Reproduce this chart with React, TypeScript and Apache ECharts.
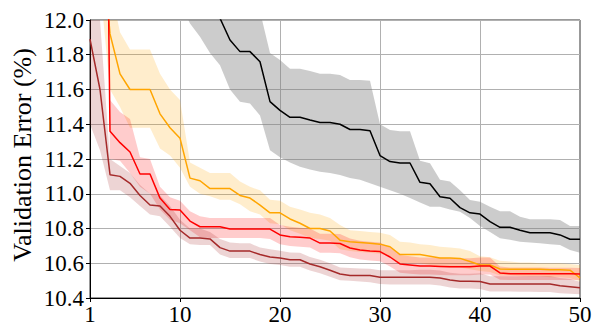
import React, { useEffect, useRef } from "react";
import * as echarts from "echarts";

const epochs: number[] = Array.from({ length: 50 }, (_, i) => i + 1);

const blackMean = [13.4, 13.32, 13.2, 13.1, 13.0, 12.92, 12.8, 12.7, 12.62, 12.5, 12.4, 12.3, 12.15, 12.01, 11.885, 11.818, 11.818, 11.76, 11.53, 11.48, 11.44, 11.44, 11.424, 11.41, 11.41, 11.4, 11.37, 11.37, 11.363, 11.22, 11.185, 11.177, 11.177, 11.066, 11.058, 10.983, 10.974, 10.92, 10.89, 10.883, 10.84, 10.807, 10.807, 10.79, 10.776, 10.776, 10.776, 10.763, 10.738, 10.738];
const blackLow = [13.0, 12.9, 12.8, 12.7, 12.6, 12.5, 12.4, 12.3, 12.2, 12.1, 11.98, 11.904, 11.81, 11.74, 11.6, 11.53, 11.52, 11.45, 11.25, 11.21, 11.18, 11.156, 11.14, 11.127, 11.12, 11.108, 11.09, 11.08, 11.06, 11.04, 11.02, 11.0, 10.975, 10.95, 10.925, 10.925, 10.91, 10.897, 10.86, 10.814, 10.78, 10.744, 10.735, 10.724, 10.72, 10.715, 10.71, 10.705, 10.676, 10.66];
const blackHigh = [13.8, 13.7, 13.6, 13.5, 13.4, 13.3, 13.2, 13.1, 13.0, 12.9, 12.8, 12.7, 12.6, 12.5, 12.45, 12.4, 12.3, 12.05, 11.81, 11.77, 11.72, 11.72, 11.706, 11.69, 11.69, 11.683, 11.655, 11.655, 11.65, 11.4, 11.367, 11.36, 11.36, 11.19, 11.175, 11.08, 11.07, 11.02, 10.964, 10.954, 10.925, 10.9, 10.9, 10.868, 10.853, 10.853, 10.853, 10.849, 10.814, 10.814];

const orangeMean = [13.0, 12.6, 11.92, 11.69, 11.6, 11.6, 11.6, 11.46, 11.38, 11.32, 11.09, 11.075, 11.03, 11.03, 11.03, 10.99, 10.975, 10.935, 10.89, 10.89, 10.855, 10.83, 10.8, 10.8, 10.786, 10.733, 10.724, 10.72, 10.715, 10.71, 10.695, 10.65, 10.65, 10.65, 10.64, 10.63, 10.63, 10.628, 10.61, 10.59, 10.59, 10.567, 10.565, 10.565, 10.565, 10.565, 10.563, 10.563, 10.56, 10.515];
const orangeLow = [12.5, 12.2, 11.6, 11.5, 11.38, 11.38, 11.38, 11.26, 11.22, 11.15, 11.04, 11.0, 10.985, 10.965, 10.965, 10.94, 10.9, 10.88, 10.83, 10.825, 10.79, 10.77, 10.745, 10.74, 10.73, 10.68, 10.67, 10.665, 10.66, 10.655, 10.64, 10.6, 10.6, 10.6, 10.59, 10.58, 10.575, 10.575, 10.565, 10.555, 10.55, 10.53, 10.53, 10.525, 10.525, 10.525, 10.52, 10.52, 10.515, 10.495];
const orangeHigh = [13.5, 13.0, 12.2, 11.93, 11.83, 11.83, 11.83, 11.69, 11.6, 11.54, 11.18, 11.15, 11.12, 11.12, 11.12, 11.07, 11.04, 11.02, 10.965, 10.96, 10.925, 10.91, 10.89, 10.88, 10.86, 10.82, 10.79, 10.785, 10.78, 10.775, 10.763, 10.724, 10.72, 10.71, 10.705, 10.695, 10.69, 10.685, 10.67, 10.64, 10.635, 10.615, 10.61, 10.605, 10.605, 10.6, 10.6, 10.6, 10.595, 10.59];

const redMean = [17.0, 16.3, 11.36, 11.294, 11.24, 11.114, 11.114, 10.975, 10.91, 10.906, 10.843, 10.81, 10.81, 10.81, 10.797, 10.797, 10.797, 10.797, 10.797, 10.763, 10.753, 10.75, 10.745, 10.716, 10.716, 10.714, 10.688, 10.676, 10.67, 10.667, 10.636, 10.596, 10.59, 10.584, 10.584, 10.582, 10.58, 10.58, 10.58, 10.584, 10.584, 10.544, 10.54, 10.54, 10.54, 10.54, 10.54, 10.54, 10.539, 10.538];
const redLow = [16.0, 15.5, 11.2, 11.19, 11.12, 11.04, 11.0, 10.91, 10.85, 10.83, 10.79, 10.75, 10.745, 10.745, 10.745, 10.745, 10.745, 10.745, 10.74, 10.71, 10.7, 10.695, 10.69, 10.66, 10.66, 10.658, 10.635, 10.622, 10.616, 10.612, 10.582, 10.545, 10.54, 10.535, 10.535, 10.533, 10.531, 10.531, 10.531, 10.535, 10.535, 10.505, 10.503, 10.503, 10.503, 10.503, 10.503, 10.503, 10.503, 10.503];
const redHigh = [18.0, 17.0, 11.54, 11.47, 11.43, 11.21, 11.2, 11.04, 10.98, 10.96, 10.9, 10.87, 10.86, 10.86, 10.86, 10.86, 10.86, 10.86, 10.86, 10.82, 10.81, 10.805, 10.8, 10.77, 10.77, 10.768, 10.742, 10.73, 10.724, 10.72, 10.69, 10.648, 10.64, 10.633, 10.633, 10.631, 10.629, 10.629, 10.629, 10.633, 10.633, 10.582, 10.576, 10.576, 10.575, 10.575, 10.574, 10.574, 10.574, 10.573];

const darkMean = [11.89, 11.6, 11.11, 11.1, 11.06, 10.99, 10.935, 10.93, 10.87, 10.79, 10.745, 10.745, 10.74, 10.69, 10.67, 10.67, 10.67, 10.65, 10.636, 10.63, 10.62, 10.62, 10.596, 10.58, 10.56, 10.538, 10.53, 10.53, 10.53, 10.52, 10.52, 10.52, 10.52, 10.52, 10.52, 10.515, 10.503, 10.497, 10.497, 10.495, 10.48, 10.48, 10.48, 10.48, 10.48, 10.48, 10.48, 10.47, 10.465, 10.459];
const darkLow = [11.4, 11.25, 11.02, 11.02, 10.98, 10.93, 10.88, 10.87, 10.81, 10.745, 10.71, 10.705, 10.705, 10.65, 10.63, 10.63, 10.63, 10.61, 10.595, 10.59, 10.58, 10.58, 10.558, 10.542, 10.522, 10.502, 10.5, 10.495, 10.49, 10.48, 10.478, 10.478, 10.478, 10.477, 10.477, 10.472, 10.46, 10.455, 10.454, 10.452, 10.438, 10.437, 10.437, 10.436, 10.436, 10.435, 10.435, 10.428, 10.424, 10.421];
const darkHigh = [12.3, 12.0, 11.2, 11.16, 11.12, 11.05, 11.0, 10.99, 10.93, 10.85, 10.8, 10.8, 10.78, 10.74, 10.72, 10.715, 10.715, 10.69, 10.68, 10.672, 10.662, 10.66, 10.636, 10.62, 10.6, 10.575, 10.573, 10.57, 10.568, 10.56, 10.56, 10.56, 10.56, 10.562, 10.562, 10.558, 10.546, 10.54, 10.54, 10.542, 10.525, 10.525, 10.525, 10.525, 10.526, 10.526, 10.526, 10.515, 10.51, 10.494];

const yTicks = [10.4, 10.6, 10.8, 11.0, 11.2, 11.4, 11.6, 11.8, 12.0];
const yTitle = "Validation Error (%)";

const FONT = "Liberation Serif";

function bandSeries(key: string, low: number[], high: number[], fill: string) {
  return [
    {
      type: "line",
      name: key + "_low",
      stack: key,
      data: low,
      symbol: "none",
      lineStyle: { opacity: 0, width: 0 },
      silent: true,
      z: 1,
    },
    {
      type: "line",
      name: key + "_band",
      stack: key,
      data: high.map((h, i) => +(h - low[i]).toFixed(4)),
      symbol: "none",
      lineStyle: { opacity: 0, width: 0 },
      areaStyle: { color: fill, opacity: 1 },
      silent: true,
      z: 1,
    },
  ];
}

function meanSeries(name: string, data: number[], color: string) {
  return {
    type: "line",
    name,
    data,
    symbol: "none",
    lineStyle: { color, width: 1.5 },
    z: 3,
  };
}

export default function App() {
  const ref = useRef<HTMLDivElement>(null);
  useEffect(() => {
    if (!ref.current) return;
    const chart = echarts.init(ref.current, undefined, { renderer: "svg" });
    const showIdx = (_i: number, v: string) => v === "1" || Number(v) % 10 === 0;
    const gridIdx = (_i: number, v: string) => Number(v) % 10 === 0 && v !== "50";
    chart.setOption({
      animation: false,
      textStyle: { fontFamily: FONT },
      grid: {
        left: 90,
        right: 15,
        top: 20,
        bottom: 29,
        show: true,
        borderColor: "#333",
        borderWidth: 1,
        backgroundColor: "transparent",
      },
      graphic: [
        {
          type: "text",
          x: 22,
          y: 155,
          rotation: Math.PI / 2,
          style: {
            text: yTitle,
            fill: "#000",
            font: "26px Liberation Serif",
            align: "center",
            verticalAlign: "middle",
          },
        },
      ],
      xAxis: {
        type: "category",
        data: epochs.map(String),
        boundaryGap: false,
        axisLine: { show: true, lineStyle: { color: "#000", width: 1 } },
        axisTick: { show: true, interval: showIdx, length: 4, lineStyle: { color: "#000" } },
        axisLabel: { interval: showIdx, color: "#000", fontFamily: FONT, fontSize: 23, margin: 5 },
        splitLine: { show: true, interval: gridIdx, lineStyle: { color: "#b0b0b0", width: 1 } },
      },
      yAxis: {
        type: "value",
        min: 10.4,
        max: 12.0,
        interval: 0.2,
        axisLine: { show: true, lineStyle: { color: "#000", width: 1 } },
        axisTick: { show: true, length: 4, lineStyle: { color: "#000" } },
        axisLabel: {
          color: "#000",
          fontFamily: FONT,
          fontSize: 23,
          margin: 6,
          formatter: (v: number) => {
            const t = yTicks.find((y) => Math.abs(y - v) < 1e-6);
            return (t ?? v).toFixed(1);
          },
        },
        splitLine: { show: true, lineStyle: { color: "#b0b0b0", width: 1 } },
      },
      series: [
        ...bandSeries("black", blackLow, blackHigh, "rgba(128,128,128,0.4)"),
        ...bandSeries("orange", orangeLow, orangeHigh, "rgba(255,165,0,0.2)"),
        ...bandSeries("red", redLow, redHigh, "rgba(255,0,0,0.2)"),
        ...bandSeries("dark", darkLow, darkHigh, "rgba(165,42,42,0.2)"),
        meanSeries("black", blackMean, "#000000"),
        meanSeries("orange", orangeMean, "#ffa500"),
        meanSeries("red", redMean, "#ff0000"),
        meanSeries("dark", darkMean, "#a52a2a"),
      ],
    });
    return () => chart.dispose();
  }, []);
  return <div ref={ref} style={{ width: 595, height: 327, position: "absolute", left: 0, top: 0 }} />;
}
